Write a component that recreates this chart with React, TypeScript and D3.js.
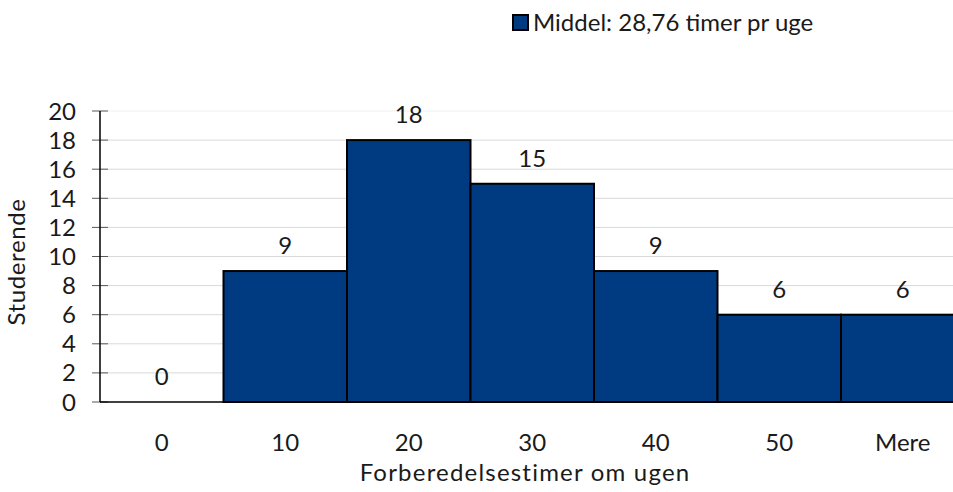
import React from "react";
import * as d3 from "d3";

const categories = ["0", "10", "20", "30", "40", "50", "Mere"];
const values = [0, 9, 18, 15, 9, 6, 6];
const yTicks = [0, 2, 4, 6, 8, 10, 12, 14, 16, 18, 20];
const legendLabel = "Middel: 28,76 timer pr uge";
const xTitle = "Forberedelsestimer om ugen";
const yTitle = "Studerende";

export default function App() {
  const W = 953, H = 492;
  const left = 100, right = 964.5, top = 111, bottom = 402;
  const x = d3.scaleBand<string>().domain(categories).range([left, right]).padding(0);
  const y = d3.scaleLinear().domain([0, 20]).range([bottom, top]);
  const font = "Lato, 'Open Sans', sans-serif";
  const fill = "#003b82";
  const fs = 24;
  return (
    <svg width={W} height={H} style={{ position: "absolute", left: 0, top: 0 }} fontFamily={font}>
      <rect width={W} height={H} fill="#fff" />
      {yTicks.map((t) => (
        <g key={t}>
          {t > 0 && (
            <line x1={left} x2={W} y1={y(t)} y2={y(t)} stroke={t === 20 ? "#f0f0f0" : "#d9d9d9"} strokeWidth={1} />
          )}
          <line x1={left - 8} x2={left + 8} y1={y(t)} y2={y(t)} stroke="#595959" strokeWidth={1} />
          <text x={76} y={y(t) + 8.5} textAnchor="end" fontSize={fs} fill="#1a1a1a">{t}</text>
        </g>
      ))}
      {categories.map((c, i) => (
        <g key={c}>
          {values[i] > 0 && (
            <rect x={x(c)!} y={y(values[i])} width={x.bandwidth()} height={bottom - y(values[i])}
              fill={fill} stroke="#000" strokeWidth={2} />
          )}
          <text x={x(c)! + x.bandwidth() / 2} y={y(values[i]) - 17} textAnchor="middle" fontSize={fs} fill="#1a1a1a">
            {values[i]}
          </text>
          <text x={x(c)! + x.bandwidth() / 2} y={451} textAnchor="middle" fontSize={fs} fill="#1a1a1a">{c}</text>
        </g>
      ))}
      <line x1={left} x2={W} y1={bottom} y2={bottom} stroke="#000" strokeWidth={1.5} />
      <line x1={left} x2={left} y1={top} y2={bottom} stroke="#000" strokeWidth={1.5} />
      <text x={525} y={481} textAnchor="middle" fontSize={fs} letterSpacing={1.2} fill="#1a1a1a">{xTitle}</text>
      <text transform={`translate(25,262) rotate(-90)`} textAnchor="middle" fontSize={fs} letterSpacing={0.6} fill="#1a1a1a">{yTitle}</text>
      <rect x={513} y={15} width={15} height={15} fill={fill} stroke="#000" strokeWidth={2} />
      <text x={533} y={30.5} fontSize={fs} fill="#1a1a1a">{legendLabel}</text>
    </svg>
  );
}
